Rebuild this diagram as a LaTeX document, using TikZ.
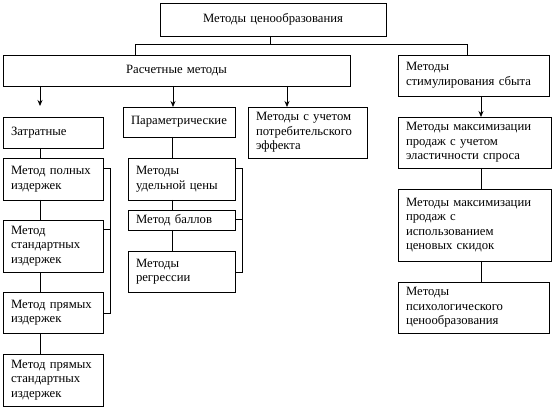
\documentclass[tikz,border=0pt]{standalone}
\usepackage{fontspec}
\setmainfont{Liberation Serif}
\usetikzlibrary{arrows.meta}
\newcommand\bx[7][left]{%
  \node[box, align=#1, text width=\dimexpr #5pt-#3pt-16pt\relax,
        minimum height={#6-#4}] (#2) at ({(#3+#5)/2},{(#4+#6)/2}) {#7};}
\begin{document}
\begin{tikzpicture}[x=1pt,y=-1pt,
  box/.style={draw, line width=0.8pt, inner xsep=8pt, inner ysep=1pt, outer sep=0pt,
    font=\fontsize{12.7pt}{14.6pt}\selectfont},
  conn/.style={line width=0.8pt},
  arr/.style={line width=0.8pt, -{Stealth[length=6pt,width=5pt]}}]
\useasboundingbox (0,0) rectangle (557,414);
\bx[center]{top}{160}{3}{386}{36}{Методы ценообразования}
\bx[center]{rasch}{3}{55}{350}{86}{Расчетные методы}
\bx{stim}{398}{55}{549}{96}{Методы\\стимулирования сбыта}
\bx{zatr}{3}{117}{103}{148}{Затратные}
\bx{param}{123}{107}{235}{137}{Параметрические}
\bx{potr}{248}{107}{367}{158}{Методы с учетом\\потребительского\\эффекта}
\bx{m1}{3}{158}{103}{200}{Метод полных\\издержек}
\bx{m2}{3}{220}{103}{272}{Метод\\стандартных\\издержек}
\bx{m3}{3}{292}{103}{333}{Метод прямых\\издержек}
\bx{m4}{3}{354}{103}{406}{Метод прямых\\стандартных\\издержек}
\bx{p1}{128}{158}{235}{200}{Методы\\удельной цены}
\bx{p2}{128}{210}{235}{230}{Метод баллов}
\bx{p3}{128}{251}{235}{292}{Методы\\регрессии}
\bx{s1}{398}{117}{551}{168}{Методы максимизации\\продаж с учетом\\эластичности спроса}
\bx{s2}{398}{189}{551}{261}{Методы максимизации\\продаж с\\использованием\\ценовых скидок}
\bx{s3}{398}{282}{549}{333}{Методы\\психологического\\ценообразования}
% top connectors
\coordinate (hub) at (270,44);
\coordinate (hl) at (135,44);
\coordinate (hr) at (467,44);
\draw[conn] (top.south -| hub) -- (hub);
\draw[conn] (rasch.north -| hl) -- (hl) -- (hr) -- (stim.north -| hr);
% arrows from Расчетные
\coordinate (za) at (40,106);
\draw[arr] (rasch.south -| za) -- (za);
\draw[arr] (rasch.south -| 173,0) -- (param.north -| 173,0);
\draw[arr] (rasch.south -| 287,0) -- (potr.north -| 287,0);
\draw[arr] (stim.south -| 481,0) -- (s1.north -| 481,0);
% left column
\draw[conn] (zatr.south -| 40,0) -- (m1.north -| 40,0);
\draw[conn] (m1.south -| 40,0) -- (m2.north -| 40,0);
\draw[conn] (m2.south -| 40,0) -- (m3.north -| 40,0);
\draw[conn] (m3.south -| 40,0) -- (m4.north -| 40,0);
\coordinate (lb1) at (110,168);
\coordinate (lb2) at (110,313);
\draw[conn] (m1.east |- lb1) -- (lb1) -- (lb2) -- (m3.east |- lb2);
\draw[conn] (m2.east |- 0,229) -- (110,229);
% param column
\draw[conn] (param.south -| 172,0) -- (p1.north -| 172,0);
\draw[conn] (p1.south -| 172,0) -- (p2.north -| 172,0);
\draw[conn] (p2.south -| 172,0) -- (p3.north -| 172,0);
\coordinate (mb1) at (242,168);
\coordinate (mb2) at (242,272);
\draw[conn] (p1.east |- mb1) -- (mb1) -- (mb2) -- (p3.east |- mb2);
\draw[conn] (p2.east |- 0,219) -- (242,219);
% right column
\draw[conn] (s1.south -| 481,0) -- (s2.north -| 481,0);
\draw[conn] (s2.south -| 481,0) -- (s3.north -| 481,0);
\end{tikzpicture}
\end{document}
